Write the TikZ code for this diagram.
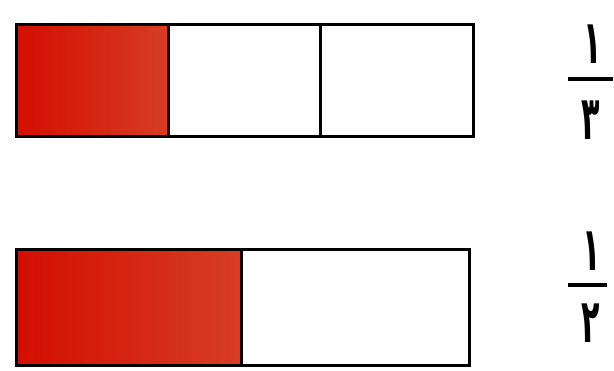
\documentclass[tikz,border=0pt]{standalone}
\usepackage{fontspec}
\newfontfamily\arabicfont[Script=Arabic]{DejaVu Sans}
\definecolor{redL}{RGB}{212,14,0}
\definecolor{redM}{RGB}{214,30,8}
\definecolor{redR}{RGB}{214,62,36}
\newcommand{\pdigit}[1]{\scalebox{0.72}[1.45]{\arabicfont\bfseries\fontsize{42}{42}\selectfont #1}}
\begin{document}
\begin{tikzpicture}[x=1pt,y=-1pt,
  box/.style={draw=black,line width=3pt,line join=miter},
  redpart/.style={left color=redL,middle color=redM,right color=redR,draw=black,line width=3pt},
  digit/.style={inner sep=0pt,text=black},
  fracbar/.style={line width=3.5pt,black}]
\useasboundingbox (0,0) rectangle (614,371);
\fill[white] (0,0) rectangle (614,371);
% top bar: one third
\draw[redpart] (16,25) rectangle (168,137);
\draw[box] (168,25) rectangle (320,137);
\draw[box] (320,25) rectangle (473,137);
\draw[box] (16,25) rectangle (473,137);
% bottom bar: one half
\draw[redpart] (16,250) rectangle (241,366);
\draw[box] (241,250) rectangle (469,366);
\draw[box] (16,250) rectangle (469,366);
% fractions
\node[digit] (n1) at (593,44) {\pdigit{۱}};
\coordinate (b1l) at (568,79);
\coordinate (b1r) at (613,79);
\draw[fracbar] (b1l) -- (b1r);
\node[digit] (d1) at (591,120) {\pdigit{۳}};
\node[digit] (n2) at (592,251) {\pdigit{۱}};
\coordinate (b2l) at (568,285);
\coordinate (b2r) at (607,285);
\draw[fracbar] (b2l) -- (b2r);
\node[digit] (d2) at (591,323) {\pdigit{۲}};
\end{tikzpicture}
\end{document}
